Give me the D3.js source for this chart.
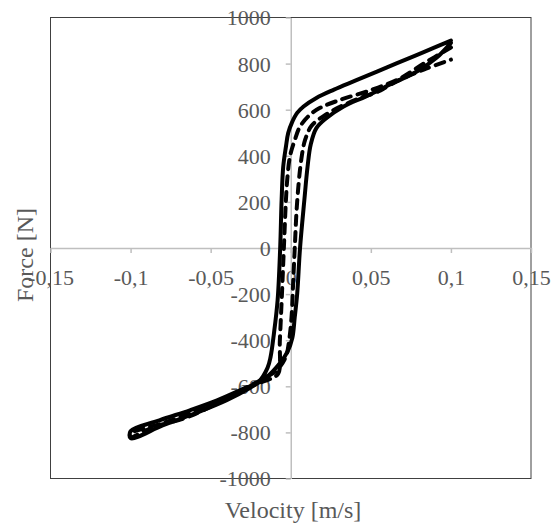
<!DOCTYPE html>
<html>
<head>
<meta charset="utf-8">
<script src="https://cdn.jsdelivr.net/npm/d3@7/dist/d3.min.js"></script>
<style>
  html, body { margin: 0; padding: 0; background: #fff; }
  svg { display: block; }
  svg text { font-family: "Liberation Serif", "Times New Roman", serif !important; }
</style>
</head>
<body>
<svg id="chart" width="559" height="527"></svg>
<script>
// ---- data ----
const xTicks = [-0.15, -0.1, -0.05, 0, 0.05, 0.1, 0.15];
const xTickLabels = ["-0,15", "-0,1", "-0,05", "0", "0,05", "0,1", "0,15"];
const yTicks = [-1000, -800, -600, -400, -200, 0, 200, 400, 600, 800, 1000];
const yTickLabels = ["-1000", "-800", "-600", "-400", "-200", "0", "200", "400", "600", "800", "1000"];

// Solid series (velocity m/s, force N): decreasing branch then increasing branch
const solidVelocity = [0.1, 0.083, 0.066, 0.041, 0.027, 0.016, 0.008, 0.004, 0.0006, -0.0016, -0.003, -0.0047, -0.0057, -0.0066, -0.0082, -0.0105, -0.0126, -0.0145, -0.02, -0.03, -0.046, -0.063, -0.082, -0.1,
  -0.1, -0.08, -0.06, -0.04, -0.025, -0.015, -0.0068, -0.002, 0.001, 0.0025, 0.004, 0.0058, 0.0085, 0.0105, 0.0125, 0.016, 0.0224, 0.033, 0.047, 0.062, 0.079, 0.091, 0.1];
const solidForce = [900, 850, 801, 728, 687, 651, 614, 586, 542, 499, 440, 353, 209, 0, -226, -371, -473, -520, -580, -612, -661, -704, -748, -795,
  -825, -770, -718, -660, -605, -560, -500, -450, -390, -300, -200, 0, 209, 353, 450, 520, 564, 614, 658, 709, 767, 825, 890];

// Dashed series
const dashedVelocity = [0.1, 0.083, 0.068, 0.05, 0.031, 0.018, 0.012, 0.0058, 0.0026, -0.0005, -0.0022, -0.003, -0.0043, -0.0055, -0.0068, -0.0078, -0.012, -0.025, -0.036, -0.0505, -0.067, -0.086, -0.1,
  -0.1, -0.08, -0.06, -0.04, -0.025, -0.015, -0.008, -0.003, -0.001, 0.0005, 0.0015, 0.0025, 0.004, 0.0065, 0.009, 0.013, 0.02, 0.03, 0.043, 0.055, 0.064, 0.083, 0.1];
const dashedForce = [870, 800, 735, 685, 643, 607, 578, 527, 470, 397, 296, 209, 0, -200, -400, -545, -565, -600, -639, -690, -740, -777, -820,
  -805, -760, -710, -650, -595, -560, -525, -470, -400, -300, -150, 0, 200, 380, 470, 530, 570, 610, 650, 680, 716, 774, 817];

// ---- layout ----
const svg = d3.select("#chart");
const plotLeft = 50.5, plotRight = 531, plotTop = 17.5, plotBottom = 478.5;
const x = d3.scaleLinear().domain([-0.15, 0.15]).range([plotLeft, plotRight]);
const y = d3.scaleLinear().domain([-1000, 1000]).range([plotBottom, plotTop]);

const gray = "#595959";
const axisGray = "#bfbfbf";
const serif = '"Liberation Serif", "Times New Roman", serif';

// plot border
svg.append("rect")
  .attr("x", plotLeft).attr("y", plotTop)
  .attr("width", plotRight - plotLeft).attr("height", plotBottom - plotTop)
  .attr("fill", "none").attr("stroke", "#404040").attr("stroke-width", 1);

// x axis at y = 0
const xAxis = d3.axisBottom(x).tickValues(xTicks)
  .tickFormat((d, i) => xTickLabels[i]).tickSize(5).tickSizeOuter(0);
const gx = svg.append("g").attr("transform", `translate(0,${y(0)})`).call(xAxis)
  .attr("font-family", serif);
gx.select(".domain").attr("stroke", axisGray).attr("stroke-width", 1.5);
gx.selectAll(".tick line").attr("stroke", axisGray).attr("stroke-width", 1.5);
gx.selectAll(".tick text")
  .attr("fill", gray).attr("font-size", 22)
  .style("font-family", serif)
  .attr("y", 37).attr("dy", 0);

// y axis at x = 0
const yAxis = d3.axisLeft(y).tickValues(yTicks)
  .tickFormat((d, i) => yTickLabels[i]).tickSize(5).tickSizeOuter(0).tickPadding(15);
const gy = svg.append("g").attr("transform", `translate(${x(0)},0)`).call(yAxis)
  .attr("font-family", serif);
gy.select(".domain").attr("stroke", axisGray).attr("stroke-width", 1.5);
gy.selectAll(".tick line").attr("stroke", axisGray).attr("stroke-width", 1.5);
gy.selectAll(".tick text")
  .attr("fill", gray).attr("font-size", 22)
  .style("font-family", serif)
  .attr("dy", "0.34em");

// series
const line = d3.line().x(d => x(d[0])).y(d => y(d[1])).curve(d3.curveCatmullRom.alpha(0.5));
const solid = solidVelocity.map((v, i) => [v, solidForce[i]]);
const dashed = dashedVelocity.map((v, i) => [v, dashedForce[i]]);

svg.append("path").datum(solid).attr("d", line)
  .attr("fill", "none").attr("stroke", "#000").attr("stroke-width", 4)
  .attr("stroke-linejoin", "round").attr("stroke-linecap", "round");
svg.append("path").datum(dashed).attr("d", line)
  .attr("fill", "none").attr("stroke", "#000").attr("stroke-width", 4)
  .attr("stroke-dasharray", "9,7")
  .attr("stroke-linejoin", "round").attr("stroke-linecap", "round");

// axis titles
svg.append("text").attr("x", 293).attr("y", 518)
  .attr("text-anchor", "middle").attr("font-size", 24).attr("fill", gray)
  .style("font-family", serif)
  .text("Velocity [m/s]");
svg.append("text").attr("transform", "translate(33,255) rotate(-90)")
  .attr("text-anchor", "middle").attr("font-size", 24).attr("fill", gray)
  .style("font-family", serif)
  .text("Force [N]");
</script>
</body>
</html>
